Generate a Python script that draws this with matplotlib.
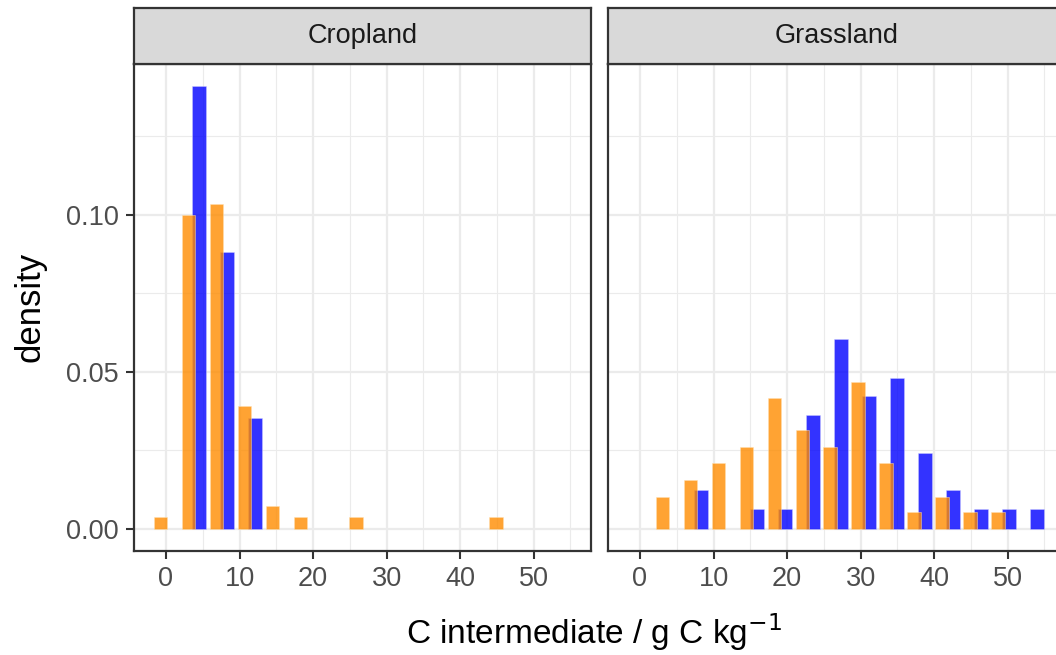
import numpy as np
import matplotlib
matplotlib.use("Agg")
import matplotlib.pyplot as plt

plt.rcParams['font.family'] = ['Liberation Sans', 'DejaVu Sans']

# histogram bins (centre of each dodged pair), shared by both facets
bin_centers = [0.2, 4.0, 7.8, 11.6, 15.4, 19.2, 23.0, 26.8,
               30.6, 34.4, 38.2, 42.0, 45.8, 49.6, 53.4]

# densities (0 = no bar)
crop_orange = [0.0037, 0.0999, 0.1033, 0.0390, 0.0073, 0.0037, 0, 0.0037,
               0, 0, 0, 0, 0.0037, 0, 0]
crop_blue = [0, 0.1411, 0.0881, 0.0352, 0, 0, 0, 0,
             0, 0, 0, 0, 0, 0, 0]
grass_orange = [0, 0.0103, 0.0157, 0.0210, 0.0260, 0.0416, 0.0314, 0.0260,
                0.0466, 0.0210, 0.0054, 0.0103, 0.0054, 0.0054, 0]
grass_blue = [0, 0, 0.0123, 0, 0.0064, 0.0064, 0.0363, 0.0603,
              0.0423, 0.0481, 0.0241, 0.0123, 0.0064, 0.0064, 0.0064]

panels = ["Cropland", "Grassland"]
x_ticks = [0, 10, 20, 30, 40, 50]
y_ticks = [0.00, 0.05, 0.10]

W, H = 1056, 655
fig = plt.figure(figsize=(W / 100, H / 100), dpi=100)


def px_axes(x0, y0, x1, y1):
    # pixel box (top-left origin) -> figure axes
    return fig.add_axes([x0 / W, 1 - y1 / H, (x1 - x0) / W, (y1 - y0) / H])


def draw_panel(ax, orange, blue, title, strip_box, show_y):
    c = np.array(bin_centers)
    ob = np.array(orange)
    bb = np.array(blue)
    m = bb > 0
    ax.bar(c[m] - 0.4, bb[m], width=1.9, align='edge', color='blue',
           alpha=0.8, edgecolor='#ccccff', linewidth=0.4, zorder=3)
    m = ob > 0
    ax.bar(c[m] - 1.85, ob[m], width=1.85, align='edge', color='darkorange',
           alpha=0.8, edgecolor='#ffe0b0', linewidth=0.4, zorder=4)

    ax.set_xlim(-4.35, 57.8)
    ax.set_ylim(-0.00705, 0.148)
    ax.set_xticks(x_ticks)
    ax.set_xticks([5, 15, 25, 35, 45, 55], minor=True)
    ax.set_yticks(y_ticks)
    ax.set_yticks([0.025, 0.075, 0.125], minor=True)
    ax.grid(which='major', color='#EBEBEB', linewidth=1.6, zorder=0)
    ax.grid(which='minor', color='#EBEBEB', linewidth=0.8, zorder=0)
    ax.set_axisbelow(True)
    for s in ax.spines.values():
        s.set_color('#333333')
        s.set_linewidth(1.6)
    ax.tick_params(which='minor', length=0)
    ax.tick_params(which='major', color='#333333', width=1.5, length=5.5,
                   labelsize=19.5, labelcolor='#4D4D4D', pad=5.5)
    if show_y:
        ax.set_yticklabels(["0.00", "0.05", "0.10"])
    else:
        ax.tick_params(axis='y', left=False, labelleft=False)

    sx = px_axes(*strip_box)
    sx.set_facecolor('#D9D9D9')
    sx.set_xticks([])
    sx.set_yticks([])
    for s in sx.spines.values():
        s.set_color('#333333')
        s.set_linewidth(1.6)
    sx.text(0.5, 0.5, title, ha='center', va='center', fontsize=19.5,
            color='#1A1A1A', transform=sx.transAxes)


ax1 = px_axes(134, 64, 591, 551)
draw_panel(ax1, crop_orange, crop_blue, panels[0], (134, 8, 591, 64), True)
ax2 = px_axes(608, 64, 1065, 551)
draw_panel(ax2, grass_orange, grass_blue, panels[1], (608, 8, 1065, 64), False)

fig.text(30 / W, 1 - 307 / H, "density", rotation=90, ha='center',
         va='center', fontsize=25)
fig.text(594 / W, 1 - 632 / H, r"C intermediate / g C kg$^{-1}$",
         ha='center', va='center', fontsize=24)

fig.savefig("out.png", dpi=100)
